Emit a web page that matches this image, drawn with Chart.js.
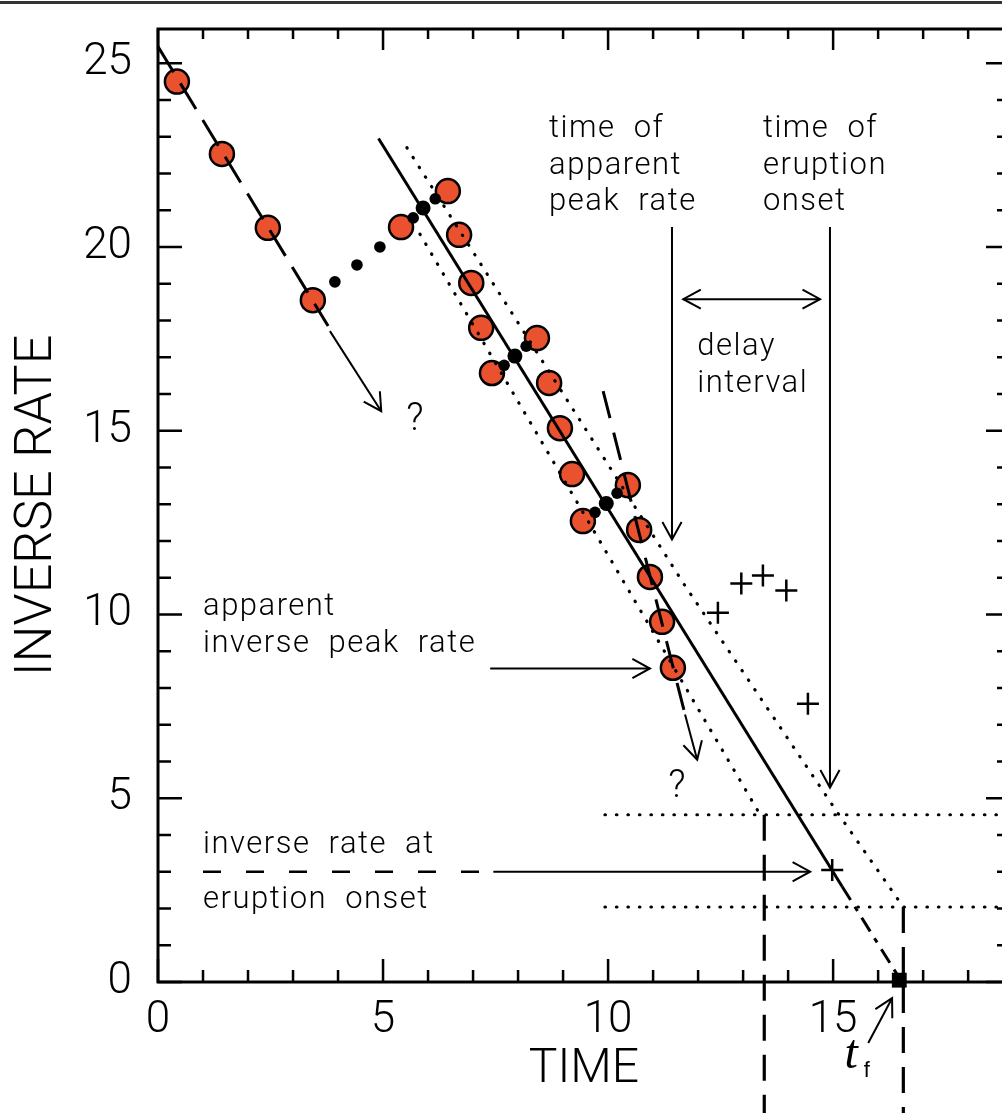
<!DOCTYPE html>
<html>
<head>
<meta charset="utf-8">
<script src="https://cdn.jsdelivr.net/npm/chart.js@4.4.0/dist/chart.umd.min.js"></script>
<style>
  html, body { margin:0; padding:0; background:#fff; overflow:hidden; }
  #caja { position:absolute; left:0; top:0; width:1010px; height:1113px; }
</style>
</head>
<body>
<div id="caja"><canvas id="grafica" width="1010" height="1113"></canvas></div>
<script>
// etiquetas de los ejes
const etiquetasTiempo = [0, 5, 10, 15];
const etiquetasInversa = [0, 5, 10, 15, 20, 25];

// observaciones (circulos rojos)
const rojoT = [0.42, 1.42, 2.44, 3.44, 5.40, 6.44, 6.69, 6.96, 7.18, 7.42, 8.42, 8.69, 8.93, 9.20, 9.44, 10.44, 10.69, 10.93, 11.20, 11.44];
const rojoI = [24.50, 22.53, 20.52, 18.55, 20.54, 21.52, 20.33, 19.02, 17.80, 16.57, 17.52, 16.30, 15.07, 13.82, 12.54, 13.52, 12.30, 11.02, 9.80, 8.55];

// puntos negros (promedios)
const negroT = [3.93, 4.42, 4.93, 5.67, 6.16, 7.69, 8.18, 9.71, 10.20];
const negroI = [19.05, 19.51, 20.00, 20.79, 21.31, 16.78, 17.30, 12.78, 13.30];
const mediaT = [5.89, 7.93, 9.96];
const mediaI = [21.06, 17.03, 13.02];

// cruces
const cruzT = [12.44, 12.96, 13.44, 13.96, 14.44, 14.98];
const cruzI = [10.05, 10.84, 11.06, 10.65, 7.57, 3.05];

// rectas
const ajusteT = [4.90, 15.20];            const ajusteI = [22.95, 2.60];
const extensionT = [15.20, 16.45];        const extensionI = [2.60, 0.15];
const bandaSupT = [5.53, 11.70, 15.13, 16.56];   const bandaSupI = [22.70, 10.80, 4.55, 2.04];
const bandaInfT = [5.82, 13.38];          const bandaInfI = [20.35, 4.55];
const tendencia1T = [0.0, 3.78];          const tendencia1I = [25.45, 17.85];
const tendencia2T = [9.89, 11.71];        const tendencia2I = [16.08, 7.28];
const nivelT = [9.93, 19.0];              const nivelAltoI = [4.55, 4.55];  const nivelBajoI = [2.04, 2.04];
const verticalPicoT = [13.47, 13.47];     const verticalPicoI = [4.55, -3.7];
const verticalTfT = [16.56, 16.56];       const verticalTfI = [2.04, -3.7];
const onsetRayaT = [1.0, 7.45];           const onsetRayaI = [3.0, 3.0];
const tfT = [16.47];                      const tfI = [0.05];

// flechas: x1, y1, x2, y2 en unidades de los ejes
const flechas = [
  [3.82, 17.71, 4.96, 15.53],
  [11.71, 7.28, 11.98, 6.05],
  [11.42, 20.54, 11.42, 12.04],
  [14.93, 20.54, 14.93, 5.29],
  [7.38, 8.53, 10.93, 8.53],
  [7.45, 3.0, 14.49, 3.0],
  [15.78, -1.66, 16.31, -0.44]
];
const flechaDoble = [11.67, 18.58, 14.71, 18.58];

const pares = (a, b) => a.map((v, i) => ({x: v, y: b[i]}));

function recta(t, i, dash, ancho, orden, clip) {
  return {
    data: pares(t, i), showLine: true, pointRadius: 0,
    borderColor: '#000', borderWidth: ancho, borderDash: dash,
    borderCapStyle: dash.length && dash[0] < 2 ? 'round' : 'butt',
    order: orden, clip: clip ? false : undefined
  };
}

const textos = [
  {x: 8.69, y: 22.99, lineas: ['time  of', 'apparent', 'peak  rate'], paso: 36.5},
  {x: 13.44, y: 22.99, lineas: ['time  of', 'eruption', 'onset'], paso: 36.5},
  {x: 11.98, y: 17.06, lineas: ['delay', 'interval'], paso: 37},
  {x: 1.0, y: 9.99, lineas: ['apparent', 'inverse  peak  rate'], paso: 37},
  {x: 1.0, y: 3.51, lineas: ['inverse  rate  at'], paso: 0},
  {x: 1.0, y: 2.01, lineas: ['eruption  onset'], paso: 0}
];

function punta(ctx, x1, y1, x2, y2) {
  const ang = Math.atan2(y2 - y1, x2 - x1), L = 20, w = 0.5;
  ctx.beginPath();
  ctx.moveTo(x2 - L * Math.cos(ang - w), y2 - L * Math.sin(ang - w));
  ctx.lineTo(x2, y2);
  ctx.lineTo(x2 - L * Math.cos(ang + w), y2 - L * Math.sin(ang + w));
  ctx.stroke();
}

const marco = {
  id: 'marco',
  beforeDatasetsDraw(chart) {
    const {ctx, chartArea: a, scales: {x, y}} = chart;
    ctx.save();
    ctx.strokeStyle = '#000';
    ctx.lineWidth = 3;
    ctx.strokeRect(a.left, a.top, a.right - a.left, a.bottom - a.top);
    ctx.lineWidth = 2.5;
    ctx.beginPath();
    x.ticks.forEach(t => {
      const p = x.getPixelForValue(t.value);
      const largo = t.value % 5 === 0 ? 23 : 12;
      ctx.moveTo(p, a.bottom); ctx.lineTo(p, a.bottom - largo);
      ctx.moveTo(p, a.top); ctx.lineTo(p, a.top + largo - 2);
    });
    y.ticks.forEach(t => {
      const p = y.getPixelForValue(t.value);
      const largo = t.value % 5 === 0 ? 24 : 13;
      ctx.moveTo(a.left, p); ctx.lineTo(a.left + largo, p);
      ctx.moveTo(a.right, p); ctx.lineTo(a.right - largo, p);
    });
    ctx.stroke();
    // borde de la pagina escaneada
    ctx.lineWidth = 3;
    ctx.strokeStyle = '#333';
    ctx.beginPath(); ctx.moveTo(0, 2.5); ctx.lineTo(chart.width, 2.5); ctx.stroke();
    ctx.restore();
  },
  afterDraw(chart) {
    const {ctx, scales: {x, y}} = chart;
    ctx.save();
    ctx.strokeStyle = '#000';
    ctx.lineWidth = 2;
    flechas.forEach(f => {
      const x1 = x.getPixelForValue(f[0]), y1 = y.getPixelForValue(f[1]);
      const x2 = x.getPixelForValue(f[2]), y2 = y.getPixelForValue(f[3]);
      ctx.beginPath(); ctx.moveTo(x1, y1); ctx.lineTo(x2, y2); ctx.stroke();
      punta(ctx, x1, y1, x2, y2);
    });
    const d = flechaDoble;
    const dx1 = x.getPixelForValue(d[0]), dy1 = y.getPixelForValue(d[1]);
    const dx2 = x.getPixelForValue(d[2]), dy2 = y.getPixelForValue(d[3]);
    ctx.beginPath(); ctx.moveTo(dx1, dy1); ctx.lineTo(dx2, dy2); ctx.stroke();
    punta(ctx, dx1, dy1, dx2, dy2); punta(ctx, dx2, dy2, dx1, dy1);

    ctx.fillStyle = '#000';
    ctx.font = '300 31px Roboto';
    ctx.letterSpacing = '1.5px';
    ctx.textBaseline = 'alphabetic';
    ctx.textAlign = 'left';
    textos.forEach(tx => {
      const px = x.getPixelForValue(tx.x), py = y.getPixelForValue(tx.y);
      tx.lineas.forEach((l, k) => ctx.fillText(l, px, py + k * tx.paso));
    });
    ctx.textAlign = 'center';
    ctx.letterSpacing = '0px';
    ctx.font = '300 38px Roboto';
    ctx.fillText('?', x.getPixelForValue(5.71), y.getPixelForValue(15.02));
    ctx.fillText('?', x.getPixelForValue(11.53), y.getPixelForValue(5.03));
    ctx.font = 'italic 48px "Liberation Serif"';
    ctx.fillText('t', x.getPixelForValue(15.4), y.getPixelForValue(-2.34));
    ctx.font = '22px "Liberation Sans"';
    ctx.fillText('f', x.getPixelForValue(15.75), y.getPixelForValue(-2.59));
    ctx.restore();
  }
};

// quitar el relleno automatico que chart.js deja para las etiquetas
function sinRelleno(s) {
  s.paddingTop = 0; s.paddingBottom = 0; s.paddingLeft = 0; s.paddingRight = 0;
}

const fuenteTicks = {family: 'Roboto', size: 44, weight: '300'};

new Chart(document.getElementById('grafica'), {
  type: 'scatter',
  data: {
    datasets: [
      {data: pares(rojoT, rojoI), pointRadius: 12, pointBackgroundColor: '#E9512F',
       pointBorderColor: '#000', pointBorderWidth: 2.5, order: 9},
      recta(bandaSupT, bandaSupI, [0.5, 11], 3.2, 6),
      recta(bandaInfT, bandaInfI, [0.5, 11], 3.2, 6),
      recta(nivelT, nivelAltoI, [0.5, 11], 3.2, 6),
      recta(nivelT, nivelBajoI, [0.5, 11], 3.2, 6),
      recta(ajusteT, ajusteI, [], 3, 4),
      recta(extensionT, extensionI, [16, 8, 5, 8], 3, 4),
      recta(tendencia1T, tendencia1I, [30, 13], 3, 4),
      recta(tendencia2T, tendencia2I, [28, 15], 3, 4),
      recta(onsetRayaT, onsetRayaI, [18, 25], 2.5, 4),
      recta(verticalPicoT, verticalPicoI, [26, 14], 3.2, 4, true),
      recta(verticalTfT, verticalTfI, [26, 14], 3.2, 4, true),
      {data: pares(negroT, negroI), pointRadius: 5.8, pointBackgroundColor: '#000',
       pointBorderWidth: 0, order: 2},
      {data: pares(mediaT, mediaI), pointRadius: 7.5, pointBackgroundColor: '#000',
       pointBorderWidth: 0, order: 2},
      {data: pares(cruzT, cruzI), pointStyle: 'cross', pointRadius: 11, pointBorderColor: '#000',
       pointBorderWidth: 2.5, order: 2},
      {data: pares(tfT, tfI), pointStyle: 'rect', pointRadius: 10.5, pointBackgroundColor: '#000',
       pointBorderWidth: 0, order: 1, clip: false}
    ]
  },
  options: {
    responsive: false,
    devicePixelRatio: 1,
    animation: false,
    events: [],
    layout: {autoPadding: false, padding: {top: 29, right: 0, left: 0, bottom: 0}},
    plugins: {legend: {display: false}, tooltip: {enabled: false}},
    scales: {
      x: {
        type: 'linear', min: 0, max: 18.93,
        grid: {display: false, drawTicks: false},
        border: {display: false},
        ticks: {
          stepSize: 1, autoSkip: false, maxRotation: 0, includeBounds: false,
          padding: 13, color: '#000', font: fuenteTicks,
          callback: v => etiquetasTiempo.includes(v) ? String(v) : ''
        },
        title: {display: true, text: 'TIME', color: '#000',
                font: {family: 'Roboto', size: 48, weight: '300', lineHeight: 1},
                padding: {top: 0, bottom: 19}},
        afterFit: s => { s.height = 131; sinRelleno(s); }
      },
      y: {
        type: 'linear', min: 0, max: 25.93,
        grid: {display: false, drawTicks: false},
        border: {display: false},
        ticks: {
          stepSize: 1, autoSkip: false, includeBounds: false,
          padding: 26, color: '#000', font: fuenteTicks,
          callback: v => etiquetasInversa.includes(v) ? String(v) : ''
        },
        title: {display: true, text: 'INVERSE RATE', color: '#000',
                font: {family: 'Roboto', size: 52, weight: '300', lineHeight: 1},
                padding: {top: 12, bottom: 0}},
        afterFit: s => { s.width = 158; sinRelleno(s); }
      }
    }
  },
  plugins: [marco]
});
</script>
</body>
</html>
